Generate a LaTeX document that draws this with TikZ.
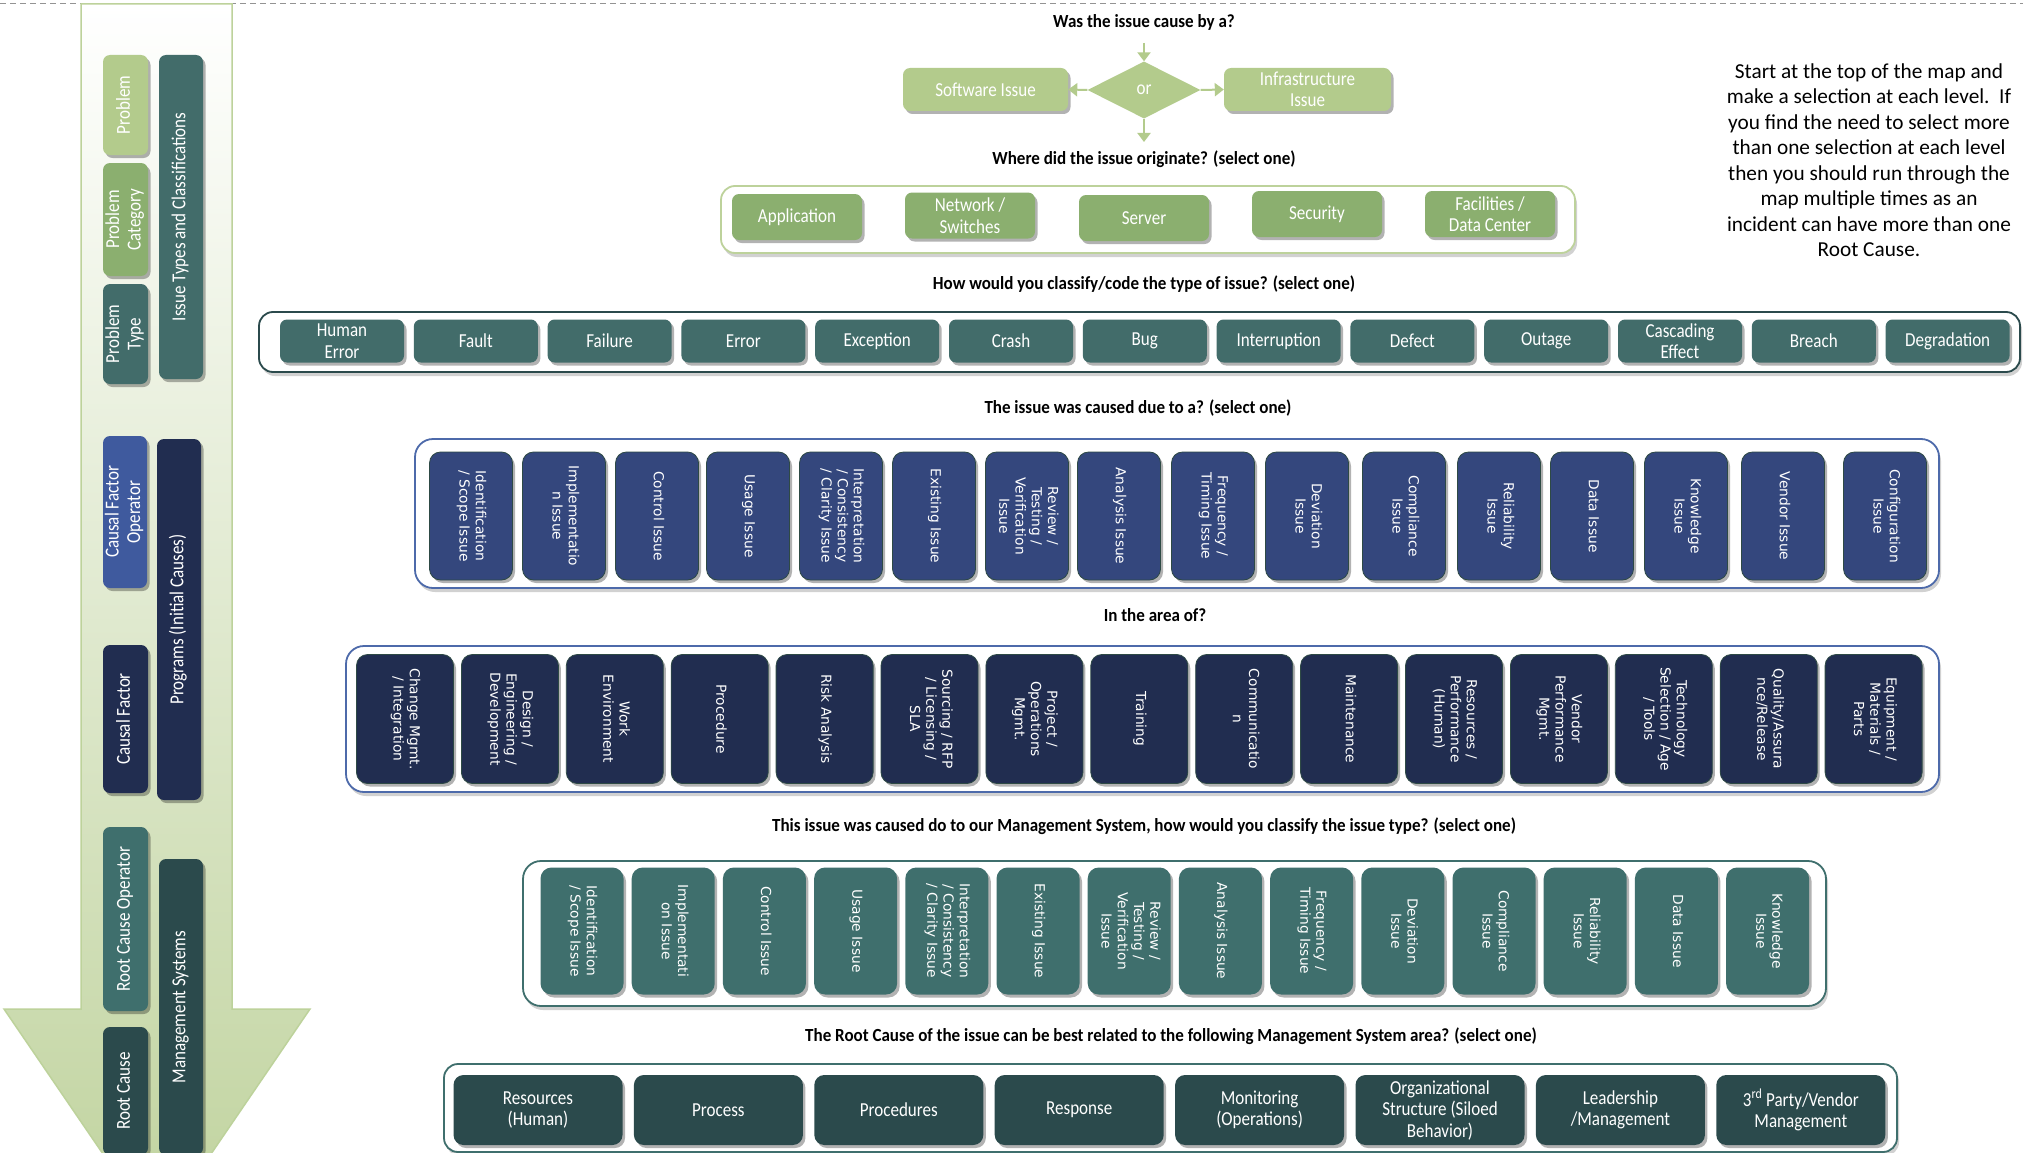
\documentclass[tikz,border=0pt]{standalone}
\usepackage{fontspec}
\usepackage{graphicx}
\setmainfont{Carlito}
\newfontfamily\cf{Carlito}[FakeStretch=0.86]
\newfontfamily\qf{Carlito}[FakeStretch=0.92]
\newfontfamily\vf{DejaVu Sans}
\usetikzlibrary{shapes.geometric,shadows,arrows.meta}
\definecolor{lgreen}{HTML}{B3CB8C}
\definecolor{mgreen}{HTML}{8BAF6F}
\definecolor{tealA}{HTML}{426C6A}
\definecolor{blueA}{HTML}{34477D}
\definecolor{blueB}{HTML}{4D6AAA}
\definecolor{navyA}{HTML}{212D50}
\definecolor{tealB}{HTML}{3F6F6D}
\definecolor{tealC}{HTML}{2B4A4C}
\definecolor{cfo}{HTML}{3F5A9E}
\definecolor{panelg}{HTML}{C0D39E}
\definecolor{contg}{HTML}{BDD29B}
\definecolor{edgeA}{HTML}{2E4A45}
\newcommand{\myrot}[2]{\rotatebox{#1}{\begin{tabular}{@{}c@{}}#2\end{tabular}}}
\begin{document}
\begin{tikzpicture}[x=1pt,y=-1pt,
  bx/.style={rounded corners=7pt, inner sep=0pt, text=white,
    drop shadow={shadow xshift=2.5pt, shadow yshift=-3pt, opacity=0.3, fill=black}},
  tallbx/.style={bx, rounded corners=11pt, draw=edgeA, line width=0.8pt},
  lab/.style={font=\cf\fontsize{19.8}{21.5}\selectfont, align=center},
  vlab/.style={font=\vf\fontsize{13.8}{16.2}\selectfont},
  cont/.style={draw, line width=1.8pt, rounded corners=14pt, fill=white, inner sep=0pt,
    drop shadow={shadow xshift=2pt, shadow yshift=-4pt, opacity=0.18, fill=black}},
  q/.style={font=\qf\bfseries\fontsize{18.5}{20}\selectfont, text=black},
  arr/.style={draw=lgreen, line width=2pt, -{Triangle[length=9pt,width=13pt]}}
]
\useasboundingbox (0,0) rectangle (2023,1153);
\clip (0,0) rectangle (2023,1153);
\fill[white] (0,0) rectangle (2023,1153);
\draw[gray!85, line width=1pt, dash pattern=on 6pt off 4pt] (0,4) -- (2023,4);

% ---------------- left arrow panel ----------------
\path[draw=contg, line width=1.5pt, top color=white, bottom color=panelg]
  (81,4) -- (232,4) -- (232,1009) -- (310,1009) -- (157,1233) -- (4,1009) -- (81,1009) -- cycle;

\node[bx, fill=lgreen, lab, minimum width=45, minimum height=100] (lp1) at (125.5,105) {\myrot{90}{Problem}};
\node[bx, fill=mgreen, lab, minimum width=45, minimum height=113] (lp2) at (125.5,219.5) {\myrot{90}{Problem\\Category}};
\node[bx, fill=tealA, lab, minimum width=45, minimum height=100] (lp3) at (125.5,334) {\myrot{90}{Problem\\Type}};
\node[bx, fill=tealA, lab, minimum width=44, minimum height=324] (lp4) at (181,217) {\myrot{90}{Issue Types and Classifications}};
\node[bx, fill=cfo, lab, minimum width=44, minimum height=152] (lp5) at (125,512) {\myrot{90}{Causal Factor\\Operator}};
\node[bx, fill=navyA, lab, minimum width=45, minimum height=148] (lp6) at (125.5,719) {\myrot{90}{Causal Factor}};
\node[bx, fill=navyA, lab, minimum width=44, minimum height=361] (lp7) at (179,619.5) {\myrot{90}{Programs (Initial Causes)}};
\node[bx, fill=tealB, lab, minimum width=45, minimum height=184] (lp8) at (125.5,919) {\myrot{90}{Root Cause Operator}};
\node[bx, fill=tealC, lab, minimum width=45, minimum height=128] (lp9) at (125.5,1091) {\myrot{90}{Root Cause}};
\node[bx, fill=tealC, lab, minimum width=44, minimum height=296] (lp10) at (181,1007) {\myrot{90}{Management Systems}};

% ---------------- top decision ----------------
\node[q] (q1) at (1144,22) {Was the issue cause by a?};
\node[diamond, fill=lgreen, text=white, inner sep=0pt, minimum width=113, minimum height=57,
  font=\cf\fontsize{19.8}{21}\selectfont] (dia) at (1144,90) {or};
\node[bx, fill=lgreen, lab, minimum width=165, minimum height=43] (sw) at (985.5,89.5) {Software Issue};
\node[bx, fill=lgreen, lab, minimum width=167, minimum height=43] (inf) at (1307.5,89.5) {Infrastructure\\Issue};
\coordinate (a0) at (1144,43);
\coordinate (a1) at (1144,142);
\draw[arr] (a0) -- (dia.north);
\draw[arr] (dia.west) -- (sw.east);
\draw[arr] (dia.east) -- (inf.west);
\draw[arr] (dia.south) -- (a1);

% ---------------- row 2 ----------------
\node[q] (q2) at (1144,159) {Where did the issue originate? (select one)};
\node[cont, draw=contg, minimum width=854, minimum height=67] (c2) at (1148,219.5) {};
\node[bx, fill=mgreen, lab, minimum width=130, minimum height=46] (o1) at (797,217) {Application};
\node[bx, fill=mgreen, lab, minimum width=130, minimum height=46] (o2) at (970,215.5) {Network /\\Switches};
\node[bx, fill=mgreen, lab, minimum width=130, minimum height=46] (o3) at (1144,218) {Server};
\node[bx, fill=mgreen, lab, minimum width=130, minimum height=46] (o4) at (1317,214) {Security};
\node[bx, fill=mgreen, lab, minimum width=130, minimum height=46] (o5) at (1490,214) {Facilities /\\Data Center};

% ---------------- note ----------------
\node[font=\fontsize{21.3}{25.5}\selectfont, align=center] (note) at (1869,160)
 {Start at the top of the map and\\make a selection at each level.\ \ If\\you find the need to select more\\than one selection at each level\\then you should run through the\\map multiple times as an\\incident can have more than one\\Root Cause.};

% ---------------- row 3 ----------------
\node[q] (q3) at (1144,284) {How would you classify/code the type of issue? (select one)};
\node[cont, draw=tealC, minimum width=1761, minimum height=60] (c3) at (1139.5,342) {};
\foreach \t [count=\i from 0] in {{Human\\Error},Fault,Failure,Error,Exception,Crash,Bug,Interruption,Defect,Outage,{Cascading\\Effect},Breach,Degradation}
  \node[bx, fill=tealA, lab, minimum width=124, minimum height=43] (t\i) at ({342+133.8*\i},341) {\t};

% ---------------- row 4 ----------------
\node[q] (q4) at (1138,408) {The issue was caused due to a? (select one)};
\node[cont, draw=blueB, rounded corners=18pt, minimum width=1524, minimum height=149] (c4) at (1177,513.5) {};
\foreach \t [count=\i from 0] in {{Identification\\/ Scope Issue},{Implementatio\\n Issue},{Control Issue},{Usage Issue},{Interpretation\\/ Consistency\\/ Clarity Issue},{Existing Issue},{Review /\\Testing /\\Verification\\Issue},{Analysis Issue},{Frequency /\\Timing Issue},{Deviation\\Issue},{Compliance\\Issue},{Reliability\\Issue},{Data Issue},{Knowledge\\Issue},{Vendor Issue},{Configuration\\Issue}}{
  \pgfmathsetmacro\xx{{471,564,657,748,841,934,1027,1119,1213,1307,1404,1499,1592,1686,1783,1885}[\i]}
  \node[tallbx, fill=blueA, vlab, minimum width=83, minimum height=128] (r\i) at (\xx,516) {\myrot{-90}{\t}};
}

% ---------------- row 5 ----------------
\node[q] (q5) at (1155,615) {In the area of?};
\node[cont, draw=blueB, rounded corners=18pt, minimum width=1593, minimum height=146] (c5) at (1142.5,719) {};
\foreach \t [count=\i from 0] in {{Change Mgmt.\\/ Integration},{Design /\\Engineering /\\Development},{Work\\Environment},{Procedure},{Risk Analysis},{Sourcing / RFP\\/ Licensing /\\SLA},{Project /\\Operations\\Mgmt.},{Training},{Communicatio\\n},{Maintenance},{Resources /\\Performance\\(Human)},{Vendor\\Performance\\Mgmt.},{Technology\\Selection / Age\\/ Tools},{Quality/Assura\\nce/Release},{Equipment /\\Materials /\\Parts}}
  \node[tallbx, fill=navyA, vlab, minimum width=97, minimum height=129] (s\i) at ({405+104.9*\i},719) {\myrot{-90}{\t}};

% ---------------- row 6 ----------------
\node[q] (q6) at (1144,826) {This issue was caused do to our Management System, how would you classify the issue type? (select one)};
\node[cont, draw=tealB, rounded corners=18pt, minimum width=1303, minimum height=145] (c6) at (1174.5,933.5) {};
\foreach \t [count=\i from 0] in {{Identification\\/ Scope Issue},{Implementati\\on Issue},{Control Issue},{Usage Issue},{Interpretation\\/ Consistency\\/ Clarity Issue},{Existing Issue},{Review /\\Testing /\\Verification\\Issue},{Analysis Issue},{Frequency /\\Timing Issue},{Deviation\\Issue},{Compliance\\Issue},{Reliability\\Issue},{Data Issue},{Knowledge\\Issue}}
  \node[bx, rounded corners=11pt, fill=tealB, vlab, minimum width=83, minimum height=127] (m\i) at ({582+91.2*\i},931) {\myrot{-90}{\t}};

% ---------------- row 7 ----------------
\node[q] (q7) at (1171,1036) {The Root Cause of the issue can be best related to the following Management System area? (select one)};
\node[cont, draw=tealB, rounded corners=14pt, minimum width=1453, minimum height=88] (c7) at (1170.5,1108) {};
\foreach \t [count=\i from 0] in {{Resources\\(Human)},Process,Procedures,Response,{Monitoring\\(Operations)},{Organizational\\Structure (Siloed\\Behavior)},{Leadership\\/Management},{3\textsuperscript{rd} Party/Vendor\\Management}}
  \node[bx, rounded corners=10pt, fill=tealC, lab, minimum width=169, minimum height=70] (g\i) at ({538+180.4*\i},1110) {\t};
\end{tikzpicture}
\end{document}
